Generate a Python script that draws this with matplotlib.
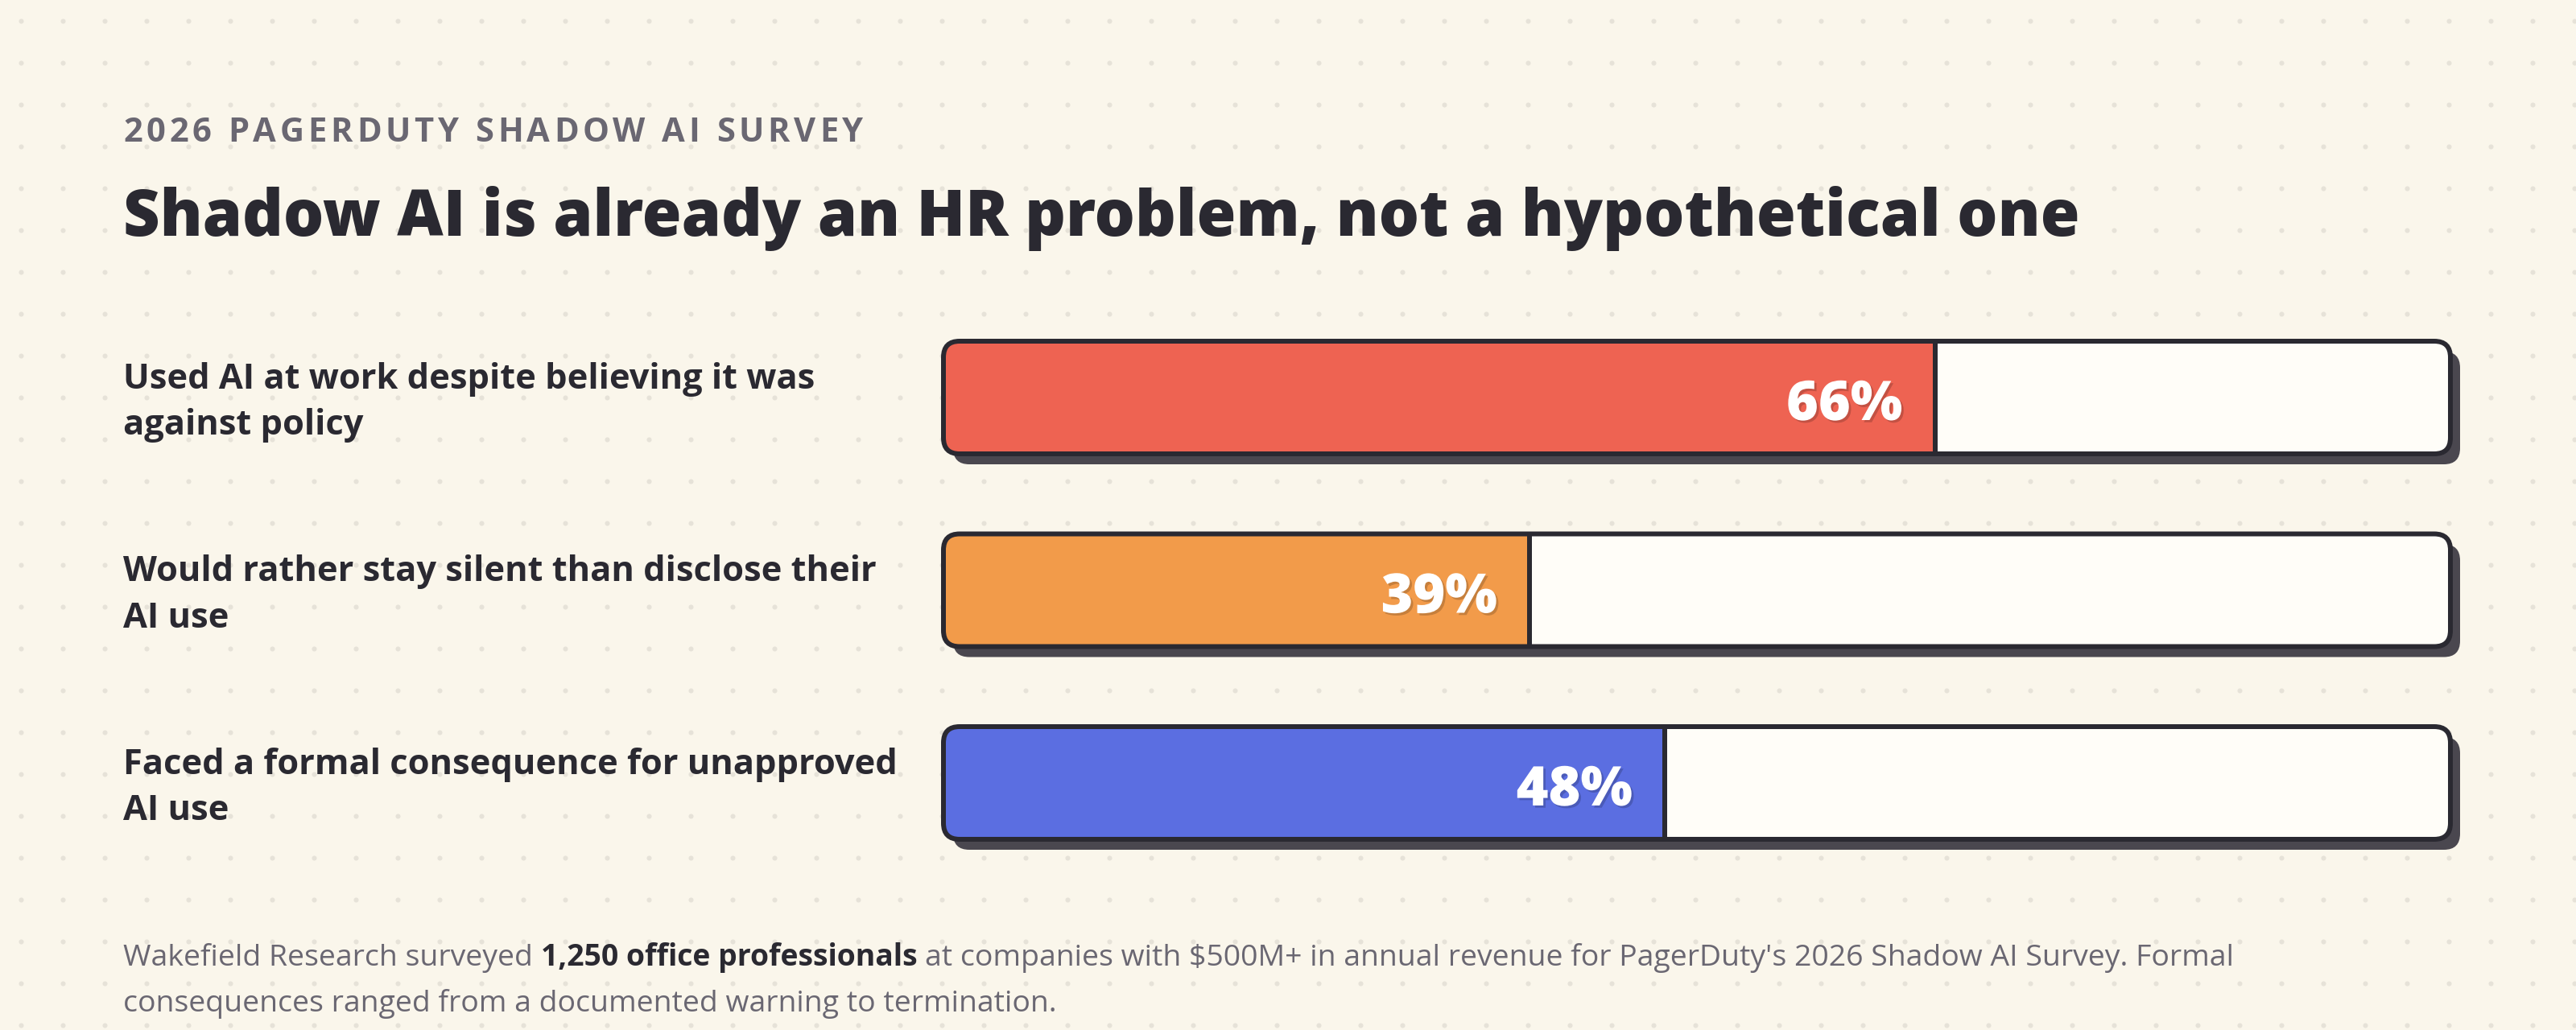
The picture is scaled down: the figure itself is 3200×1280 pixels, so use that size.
import numpy as np
import matplotlib
matplotlib.use("Agg")
import matplotlib.pyplot as plt
import matplotlib.patheffects as pe
from matplotlib import transforms
from matplotlib.patches import FancyBboxPatch, Rectangle

# данные графика
eyebrow = "2026 PAGERDUTY SHADOW AI SURVEY"
title = "Shadow AI is already an HR problem, not a hypothetical one"
labels = [
    ["Used AI at work despite believing it was", "against policy"],
    ["Would rather stay silent than disclose their", "AI use"],
    ["Faced a formal consequence for unapproved", "AI use"],
]
values = [66, 39, 48]
colors = ["#ee6352", "#f29b4a", "#5b6ee1"]
note_line1 = [
    ("Wakefield Research surveyed", False),
    ("1,250 office professionals", True),
    ("at companies with $500M+ in annual revenue for PagerDuty's 2026 Shadow AI Survey. Formal", False),
]
note_line2 = "consequences ranged from a documented warning to termination."

BG = "#faf6eb"
DOT = "#e6e2d8"
INK = "#2a2931"
GREY = "#6a6772"
EMPTY = "#fffdf8"
SHADOW = "#4a474f"
FONT = ["Open Sans", "DejaVu Sans"]

plt.rcParams["font.family"] = FONT

W, H = 3200, 1280
fig = plt.figure(figsize=(W / 100, H / 100), dpi=100)
fig.patch.set_facecolor(BG)

# фон с точками, координаты в пикселях
bg = fig.add_axes([0, 0, 1, 1])
bg.set_xlim(0, W)
bg.set_ylim(H, 0)
bg.axis("off")
gx, gy = np.meshgrid(np.arange(26, W, 52), np.arange(26, H, 52))
bg.scatter(gx.ravel(), gy.ravel(), s=19, color=DOT, linewidths=0, zorder=0)

renderer = fig.canvas.get_renderer()


def text_width(s, **kw):
    t = bg.text(0, 0, s, **kw)
    w = t.get_window_extent(renderer).width
    t.remove()
    return w


def spaced_text(x, y, s, spacing, **kw):
    sp = text_width("a a", **kw) - text_width("aa", **kw)
    for ch in s:
        if ch == " ":
            x += sp + spacing
            continue
        t = bg.text(x, y, ch, **kw)
        x += t.get_window_extent(renderer).width + spacing


# надзаголовок и заголовок
spaced_text(153, 176, eyebrow, 4.8, fontsize=30, fontweight="bold",
            color=GREY, va="baseline", ha="left")
bg.text(153, 293, title, fontsize=57, fontweight="heavy", color=INK,
        va="baseline", ha="left")

# полосы: оси покрывают внутреннюю часть полос (0..100 %)
left_px, right_px = 1175, 3041
top_px, bot_px = 374.25, 1092.75
ax = fig.add_axes([left_px / W, 1 - bot_px / H,
                   (right_px - left_px) / W, (bot_px - top_px) / H])
ax.set_xlim(0, 100)
ax.set_ylim(len(values) - 0.5, -0.5)
ax.axis("off")
ax.patch.set_alpha(0)

px_x = (right_px - left_px) / 100
px_y = (bot_px - top_px) / len(values)
hh = 140 / px_y
bx = -3 / px_x
bw = 100 + 6 / px_x
rad = 20 / px_x
asp = px_x / px_y
lw = 6 * 0.72
style = f"round,pad=0,rounding_size={rad}"

shadow_tr = transforms.offset_copy(ax.transData, fig=fig, x=12, y=-13, units="dots")
div_tr = transforms.offset_copy(ax.transData, fig=fig, x=-3, y=0, units="dots")
label_tr = transforms.blended_transform_factory(bg.transData, ax.transData)

for i, (v, c, lab) in enumerate(zip(values, colors, labels)):
    y0 = i - hh / 2
    sh = FancyBboxPatch((bx, y0), bw, hh, boxstyle=style, mutation_aspect=asp,
                        facecolor=SHADOW, edgecolor="none", transform=shadow_tr,
                        clip_on=False, zorder=1)
    ax.add_patch(sh)
    base = FancyBboxPatch((bx, y0), bw, hh, boxstyle=style, mutation_aspect=asp,
                          facecolor=EMPTY, edgecolor="none", clip_on=False, zorder=2)
    ax.add_patch(base)
    fill = Rectangle((bx, y0), v - bx, hh, facecolor=c, edgecolor="none", zorder=3)
    ax.add_patch(fill)
    fill.set_clip_path(base)
    ax.plot([v, v], [y0, y0 + hh], color=INK, lw=lw, solid_capstyle="butt",
            transform=div_tr, zorder=4, clip_on=False)
    edge = FancyBboxPatch((bx, y0), bw, hh, boxstyle=style, mutation_aspect=asp,
                          facecolor="none", edgecolor=INK, linewidth=lw,
                          clip_on=False, zorder=5)
    ax.add_patch(edge)

    ax.text(v, i, f"{v}%",
            transform=transforms.offset_copy(ax.transData, fig=fig, x=-43, y=-28, units="dots"),
            ha="right", va="baseline", fontsize=49, fontweight="heavy", color="white",
            zorder=6,
            path_effects=[pe.SimplePatchShadow(offset=(2, -2), shadow_rgbFace="#000000", alpha=0.18),
                          pe.Normal()])

    for k, line in enumerate(lab):
        dy = 11 if k == 0 else -46
        bg.text(153, i, line,
                transform=transforms.offset_copy(label_tr, fig=fig, x=0, y=dy, units="dots"),
                ha="left", va="baseline", fontsize=31.2, fontweight="bold", color=INK)

# примечание внизу
sp = text_width("a a", fontsize=26.9) - text_width("aa", fontsize=26.9)
x = 153
for part, bold in note_line1:
    kw = dict(fontsize=26.9, fontweight="bold" if bold else "normal",
              color=INK if bold else GREY, va="baseline", ha="left")
    t = bg.text(x, 1200, part, **kw)
    x += t.get_window_extent(renderer).width + sp
bg.text(153, 1257, note_line2, fontsize=26.9, color=GREY, va="baseline", ha="left")

fig.savefig("out.png", dpi=100, facecolor=BG)
